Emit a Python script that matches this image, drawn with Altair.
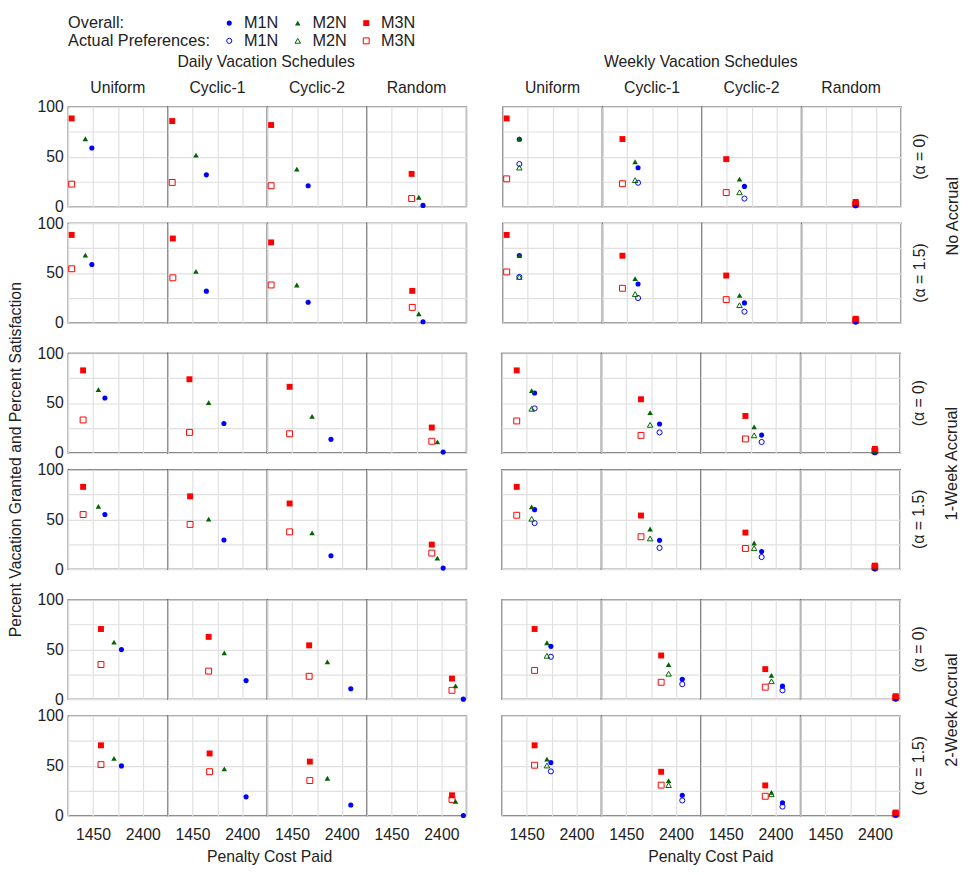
import altair as alt
import pandas as pd

ACCRUALS = ["No Accrual", "1-Week Accrual", "2-Week Accrual"]
ALPHAS = ["(α = 0)", "(α = 1.5)"]
SCHED_TYPES = ["Daily Vacation Schedules", "Weekly Vacation Schedules"]
SCHEDULES = ["Uniform", "Cyclic-1", "Cyclic-2", "Random"]
METHODS = ["M1N", "M2N", "M3N"]
KINDS = ["Overall:", "Actual Preferences:"]
COLORS = ["#0000ff", "#006400", "#ff0000"]
SHAPES = ["circle", "triangle-up", "square"]
FILLED_SIZES = [32, 45, 21]
OPEN_SIZES = [27, 36, 16]
X_TICKS = [975, 1450, 1925, 2400, 2875]
Y_TICKS = [0, 25, 50, 75, 100]

# rows: (No Accrual a=0), (No Accrual a=1.5), (1-Week a=0), (1-Week a=1.5), (2-Week a=0), (2-Week a=1.5)
# columns: Daily Uniform, Cyclic-1, Cyclic-2, Random, Weekly Uniform, Cyclic-1, Cyclic-2, Random
X_M1N = [
    [1428, 1714, 1757, 2049, 1292, 1658, 1789, 2012],
    [1428, 1714, 1757, 2049, 1292, 1658, 1789, 2012],
    [1677, 2049, 2192, 2434, 1602, 2087, 2136, 2397],
    [1677, 2049, 2192, 2434, 1602, 2087, 2136, 2397],
    [1993, 2472, 2571, 2819, 1913, 2521, 2534, 2794],
    [1993, 2472, 2571, 2819, 1913, 2521, 2534, 2794],
]
X_M2N = [
    [1304, 1515, 1540, 1969, 1292, 1602, 1695, 2012],
    [1304, 1515, 1540, 1969, 1292, 1602, 1695, 2012],
    [1553, 1757, 1832, 2323, 1546, 1907, 1993, 2397],
    [1553, 1757, 1832, 2323, 1546, 1907, 1993, 2397],
    [1851, 2056, 2124, 2670, 1838, 2260, 2323, 2794],
    [1851, 2056, 2124, 2670, 1838, 2260, 2323, 2794],
]
X_M3N = [
    [1043, 1062, 1050, 1832, 1050, 1360, 1441, 2012],
    [1043, 1074, 1050, 1844, 1050, 1360, 1441, 2012],
    [1261, 1391, 1403, 2217, 1261, 1733, 1826, 2397],
    [1261, 1403, 1403, 2217, 1261, 1733, 1826, 2397],
    [1602, 1757, 1776, 2602, 1602, 2118, 2205, 2794],
    [1602, 1776, 1789, 2602, 1602, 2118, 2205, 2794],
]
Y_M1N_OVERALL = [
    [58.7, 31.7, 20.8, 1.0, 67.5, 38.9, 20.1, 1.0],
    [58.5, 31.7, 20.6, 1.0, 67.5, 38.9, 19.9, 1.0],
    [55.1, 29.4, 13.5, 0.7, 60.1, 29.0, 17.8, 0.5],
    [54.8, 29.2, 13.4, 1.0, 59.7, 28.9, 17.7, 0.5],
    [49.8, 18.7, 10.5, 0.0, 53.1, 20.0, 13.1, 0.5],
    [49.8, 18.7, 10.5, 0.0, 53.1, 20.3, 12.8, 0.5],
]
Y_M1N_ACTUAL = [
    [None, None, None, None, 42.6, 23.8, 7.9, 1.0],
    [None, None, None, None, 46.0, 24.8, 11.1, 1.0],
    [None, None, None, None, 44.6, 20.5, 10.9, 0.5],
    [None, None, None, None, 46.2, 21.3, 12.1, 0.5],
    [None, None, None, None, 42.6, 15.1, 8.9, 0.5],
    [None, None, None, None, 44.3, 15.1, 8.9, 0.5],
]
Y_M2N_OVERALL = [
    [68.0, 51.5, 37.5, 9.2, 68.0, 44.9, 27.4, 3.0],
    [68.0, 51.6, 37.9, 9.0, 67.6, 44.4, 27.5, 3.0],
    [63.4, 50.5, 36.6, 10.9, 62.4, 40.3, 26.1, 2.0],
    [63.0, 50.2, 36.4, 11.1, 62.6, 40.3, 26.2, 2.0],
    [57.4, 46.6, 37.4, 13.3, 56.7, 34.8, 23.9, 3.0],
    [57.4, 46.9, 37.4, 14.1, 56.7, 35.1, 23.3, 2.5],
]
Y_M2N_ACTUAL = [
    [None, None, None, None, 39.0, 26.4, 14.2, 2.0],
    [None, None, None, None, 46.0, 28.8, 17.6, 2.0],
    [None, None, None, None, 44.2, 28.1, 17.5, 1.5],
    [None, None, None, None, 50.5, 30.8, 21.0, 1.5],
    [None, None, None, None, 43.6, 25.6, 18.0, 2.0],
    [None, None, None, None, 50.2, 30.5, 21.3, 2.0],
]
Y_M3N_OVERALL = [
    [88.4, 85.8, 81.8, 32.7, 88.4, 67.7, 47.5, 4.5],
    [88.2, 84.6, 80.7, 32.0, 88.2, 67.3, 47.4, 4.0],
    [82.8, 73.9, 66.3, 25.4, 82.8, 53.8, 37.0, 4.0],
    [82.6, 73.1, 65.9, 24.6, 82.6, 53.8, 36.7, 3.5],
    [70.5, 62.6, 54.1, 20.7, 70.5, 43.9, 30.2, 3.0],
    [70.5, 62.3, 54.1, 20.3, 70.5, 43.9, 30.2, 3.0],
]
Y_M3N_ACTUAL = [
    [22.4, 24.1, 20.8, 7.9, 27.7, 22.8, 13.9, 2.5],
    [54.2, 45.1, 37.9, 15.4, 51.0, 34.6, 23.2, 2.5],
    [33.0, 20.5, 19.1, 11.6, 32.0, 17.5, 13.9, 2.0],
    [54.8, 44.9, 37.4, 16.1, 54.1, 32.5, 20.7, 2.0],
    [34.8, 28.2, 23.0, 8.9, 28.9, 17.0, 12.1, 1.5],
    [51.1, 44.0, 35.1, 16.1, 50.5, 30.5, 19.3, 1.5],
]

X_BY_METHOD = {"M1N": X_M1N, "M2N": X_M2N, "M3N": X_M3N}
Y_BY_METHOD = {
    "M1N": (Y_M1N_OVERALL, Y_M1N_ACTUAL),
    "M2N": (Y_M2N_OVERALL, Y_M2N_ACTUAL),
    "M3N": (Y_M3N_OVERALL, Y_M3N_ACTUAL),
}

records = []
for r in range(6):
    for c in range(8):
        for m in METHODS:
            yo, ya = Y_BY_METHOD[m]
            base = dict(accrual=ACCRUALS[r // 2], alpha=ALPHAS[r % 2],
                        stype=SCHED_TYPES[c // 4], sched=SCHEDULES[c % 4],
                        method=m, cost=X_BY_METHOD[m][r][c])
            records.append(dict(base, kind="Overall:", pct=yo[r][c]))
            if ya[r][c] is not None:
                records.append(dict(base, kind="Actual Preferences:", pct=ya[r][c]))
df = pd.DataFrame(records)

FONT = "Liberation Sans"
TXT = "#222222"
PANEL_W, PANEL_H = 101, 101
color_scale = alt.Scale(domain=METHODS, range=COLORS)
shape_scale = alt.Scale(domain=METHODS, range=SHAPES)
fsize_scale = alt.Scale(domain=METHODS, range=FILLED_SIZES)
osize_scale = alt.Scale(domain=METHODS, range=OPEN_SIZES)
TITLE_DX = [18, -20]


def group_chart(a, s):
    sub = df[(df.accrual == ACCRUALS[a]) & (df.stype == SCHED_TYPES[s])]
    top, bottom, left, right = a == 0, a == 2, s == 0, s == 1
    xaxis = alt.Axis(values=X_TICKS, format="d",
                     labelExpr="datum.value == 1450 || datum.value == 2400 ? datum.label : ''",
                     labels=bottom, ticks=False, domain=False, title=None, labelFlush=False,
                     labelFontSize=16, labelPadding=11, labelColor=TXT,
                     grid=True, gridColor="#e0e0e0", gridWidth=1.2)
    yaxis = alt.Axis(values=Y_TICKS,
                     labelExpr="datum.value % 50 == 0 ? datum.label : ''",
                     labels=left, ticks=False, domain=False, title=None,
                     labelFontSize=16, labelPadding=5, labelColor=TXT,
                     grid=True, gridColor="#e0e0e0", gridWidth=1.2)
    enc = dict(
        x=alt.X("cost:Q", scale=alt.Scale(domain=[975, 2875], nice=False, zero=False), axis=xaxis),
        y=alt.Y("pct:Q", scale=alt.Scale(domain=[0, 100], nice=False), axis=yaxis),
        color=alt.Color("method:N", scale=color_scale, legend=None),
        shape=alt.Shape("method:N", scale=shape_scale, legend=None),
    )
    open_l = alt.Chart().mark_point(filled=False, strokeWidth=1, opacity=1).encode(
        size=alt.Size("method:N", scale=osize_scale, legend=None), **enc
    ).transform_filter(alt.datum.kind == "Actual Preferences:")
    fill_l = alt.Chart().mark_point(filled=True, opacity=1).encode(
        size=alt.Size("method:N", scale=fsize_scale, legend=None), **enc
    ).transform_filter(alt.datum.kind == "Overall:")
    layered = alt.layer(open_l, fill_l, data=sub).properties(width=PANEL_W, height=PANEL_H)

    if top:
        col = alt.Column("sched:N", sort=SCHEDULES, title=SCHED_TYPES[s],
                         header=alt.Header(labelFontSize=16, titleFontSize=16, labelColor=TXT,
                                           titleColor=TXT, titleFontWeight="normal",
                                           labelPadding=11, titlePadding=0))
    else:
        col = alt.Column("sched:N", sort=SCHEDULES, title=None, header=alt.Header(labels=False))
    if right:
        row = alt.Row("alpha:N", sort=ALPHAS, title=ACCRUALS[a],
                      header=alt.Header(labelOrient="right", titleOrient="right",
                                        labelAngle=270, titleAngle=270,
                                        labelFontSize=16, titleFontSize=16.5,
                                        labelColor=TXT, titleColor=TXT,
                                        titleFontWeight="normal",
                                        labelPadding=11, titlePadding=7))
    else:
        row = alt.Row("alpha:N", sort=ALPHAS, title=None, header=alt.Header(labels=False))
    fc = layered.facet(row=row, column=col, spacing={"row": 17, "column": 0}, bounds="flush")
    if bottom:
        fc = fc.properties(title=alt.TitleParams("Penalty Cost Paid", orient="bottom", anchor="middle",
                                                 fontSize=16, fontWeight="normal", dx=TITLE_DX[s],
                                                 color=TXT, offset=7))
    return fc


rows = [alt.hconcat(group_chart(a, 0), group_chart(a, 1), spacing=34) for a in range(3)]
inner = alt.vconcat(*rows, spacing=15).properties(
    title=alt.TitleParams("Percent Vacation Granted and Percent Satisfaction", orient="left",
                          anchor="middle", fontSize=16, fontWeight="normal", color=TXT, offset=13))

# legend (its origin lines up with the left edge of the panels)
LEG_SLOT = {"M1N": 1, "M2N": 2, "M3N": 3}
LEG_ROW = {"Overall:": 1, "Actual Preferences:": 0}
leg_records = [dict(kind=k, krow=LEG_ROW[k], method=m, slot=LEG_SLOT[m]) for k in KINDS for m in METHODS]
leg_df = pd.DataFrame(leg_records)
LEG_W, LEG_H = 440, 34
lx = alt.X("slot:Q", scale=alt.Scale(domain=[-94 / 69.5, (LEG_W - 94) / 69.5], nice=False, zero=False), axis=None)
ly = alt.Y("krow:Q", scale=alt.Scale(domain=[-0.5, 1.389], nice=False, zero=False), axis=None)
leg_base = alt.Chart(leg_df)
leg_open = leg_base.transform_filter(alt.datum.kind == "Actual Preferences:").mark_point(
    filled=False, strokeWidth=1, opacity=1).encode(
    x=lx, y=ly, color=alt.Color("method:N", scale=color_scale, legend=None),
    shape=alt.Shape("method:N", scale=shape_scale, legend=None),
    size=alt.Size("method:N", scale=osize_scale, legend=None))
leg_fill = leg_base.transform_filter(alt.datum.kind == "Overall:").mark_point(
    filled=True, opacity=1).encode(
    x=lx, y=ly, color=alt.Color("method:N", scale=color_scale, legend=None),
    shape=alt.Shape("method:N", scale=shape_scale, legend=None),
    size=alt.Size("method:N", scale=fsize_scale, legend=None))
leg_text = leg_base.mark_text(align="left", baseline="middle", dx=15, fontSize=16.5, color=TXT).encode(
    x=lx, y=ly, text="method:N")
leg_title = alt.Chart(pd.DataFrame({"kind": KINDS, "krow": [LEG_ROW[k] for k in KINDS]})).mark_text(
    align="left", baseline="middle", fontSize=16.5, color=TXT).encode(
    x=alt.value(0), y=ly, text="kind:N")
legend = alt.layer(leg_open, leg_fill, leg_text, leg_title).properties(
    width=LEG_W, height=LEG_H, view=alt.ViewConfig(stroke="transparent"))

chart = alt.vconcat(legend, inner, spacing=4).properties(
    padding={"left": 0, "top": 0, "right": 0, "bottom": 0}).configure(
    font=FONT).configure_view(stroke="#3c3c3c", strokeWidth=1.3)

chart.save("out.html", embed_options={"renderer": "svg", "actions": False})
